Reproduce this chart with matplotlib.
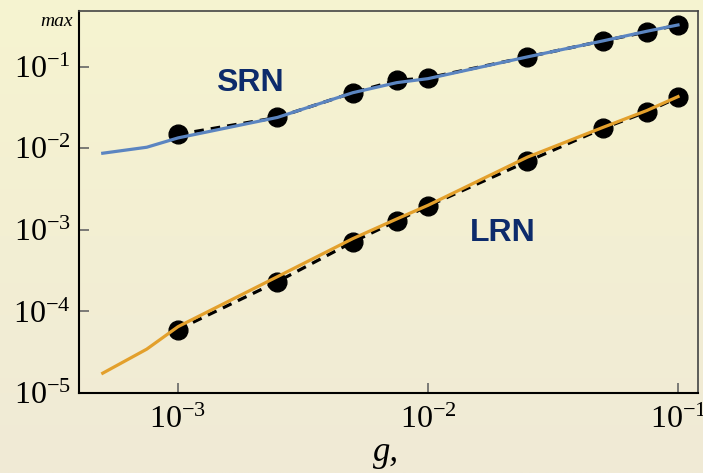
import numpy as np
import matplotlib
matplotlib.use("Agg")
import matplotlib.pyplot as plt

# ---- data ----
g_pts = [1e-3, 2.5e-3, 5e-3, 7.5e-3, 1e-2, 2.5e-2, 5e-2, 7.5e-2, 1e-1]
srn_pts = [0.0148, 0.0239, 0.048, 0.068, 0.073, 0.132, 0.207, 0.267, 0.325]
lrn_pts = [6.0e-5, 2.32e-4, 7.1e-4, 1.29e-3, 1.96e-3, 6.9e-3, 0.0175, 0.028, 0.042]

g_fit = [5e-4, 7.5e-4, 1e-3, 2.5e-3, 5e-3, 7.5e-3, 1e-2, 2.5e-2, 5e-2, 7.5e-2, 1e-1]
srn_fit = [0.0087, 0.0103, 0.0134, 0.0239, 0.048, 0.0638, 0.0714, 0.132, 0.207, 0.272, 0.325]
lrn_fit = [1.75e-5, 3.45e-5, 6.5e-5, 2.67e-4, 7.8e-4, 1.36e-3, 2.0e-3, 7.8e-3, 0.018, 0.029, 0.043]

xticks = [1e-3, 1e-2, 1e-1]
yticks = [1e-5, 1e-4, 1e-3, 1e-2, 1e-1]

plt.rcParams['mathtext.fontset'] = 'stix'
plt.rcParams['font.family'] = ['Liberation Serif', 'DejaVu Serif']

W, H = 703, 473
fig = plt.figure(figsize=(W / 100, H / 100), dpi=100)

# background gradient
bg = fig.add_axes([0, 0, 1, 1], zorder=-10)
top = np.array([246, 244, 208]) / 255
bot = np.array([240, 234, 214]) / 255
t = np.linspace(0, 1, 256)[:, None]
grad = top[None, :] * (1 - t) + bot[None, :] * t
bg.imshow(grad[:, None, :].repeat(2, axis=1), aspect='auto', extent=[0, 1, 0, 1])
bg.axis('off')

L, R, T, B = 79, 698, 11, 393
ax = fig.add_axes([L / W, 1 - B / H, (R - L) / W, (B - T) / H])
ax.patch.set_alpha(0)
ax.set_xscale('log')
ax.set_yscale('log')
ax.set_xlim(10 ** -3.396, 10 ** -0.92)
ax.set_ylim(1e-5, 10 ** -0.317)

ax.plot(g_pts, srn_pts, ls=(0, (3, 2.2)), color='black', lw=2.3, zorder=2)
ax.plot(g_pts, lrn_pts, ls=(0, (3, 2.2)), color='black', lw=2.3, zorder=2)
ax.plot(g_pts, srn_pts, 'o', color='black', ms=13.5, zorder=3)
ax.plot(g_pts, lrn_pts, 'o', color='black', ms=13.5, zorder=3)
ax.plot(g_fit, srn_fit, color='#5b85c1', lw=2.3, zorder=4)
ax.plot(g_fit, lrn_fit, color='#e3a02c', lw=2.3, zorder=4)

ax.set_xticks(xticks)
ax.set_yticks(yticks)
ax.minorticks_off()
ax.tick_params(which='major', direction='in', length=7, width=1.2, color='#666666',
               labelsize=23, pad=6)
ax.tick_params(axis='x', pad=9)

for s in ['left', 'bottom']:
    ax.spines[s].set_color('black')
    ax.spines[s].set_linewidth(1.5)
for s in ['top', 'right']:
    ax.spines[s].set_color('#444444')
    ax.spines[s].set_linewidth(1.2)

ax.text(250 / W, 1 - 83 / H, 'SRN', transform=fig.transFigure, ha='center', va='center',
        fontsize=23, fontweight='bold', color='#0d2b6b', family='Liberation Sans')
ax.text(503 / W, 1 - 233 / H, 'LRN', transform=fig.transFigure, ha='center', va='center',
        fontsize=23, fontweight='bold', color='#0d2b6b', family='Liberation Sans')

fig.text(57 / W, 1 - 21 / H, 'max', ha='center', va='center', fontsize=14, style='italic')
fig.text(386 / W, 1 - 452 / H, 'g,', ha='center', va='center', fontsize=25, style='italic')

fig.savefig('out.png', dpi=100)
